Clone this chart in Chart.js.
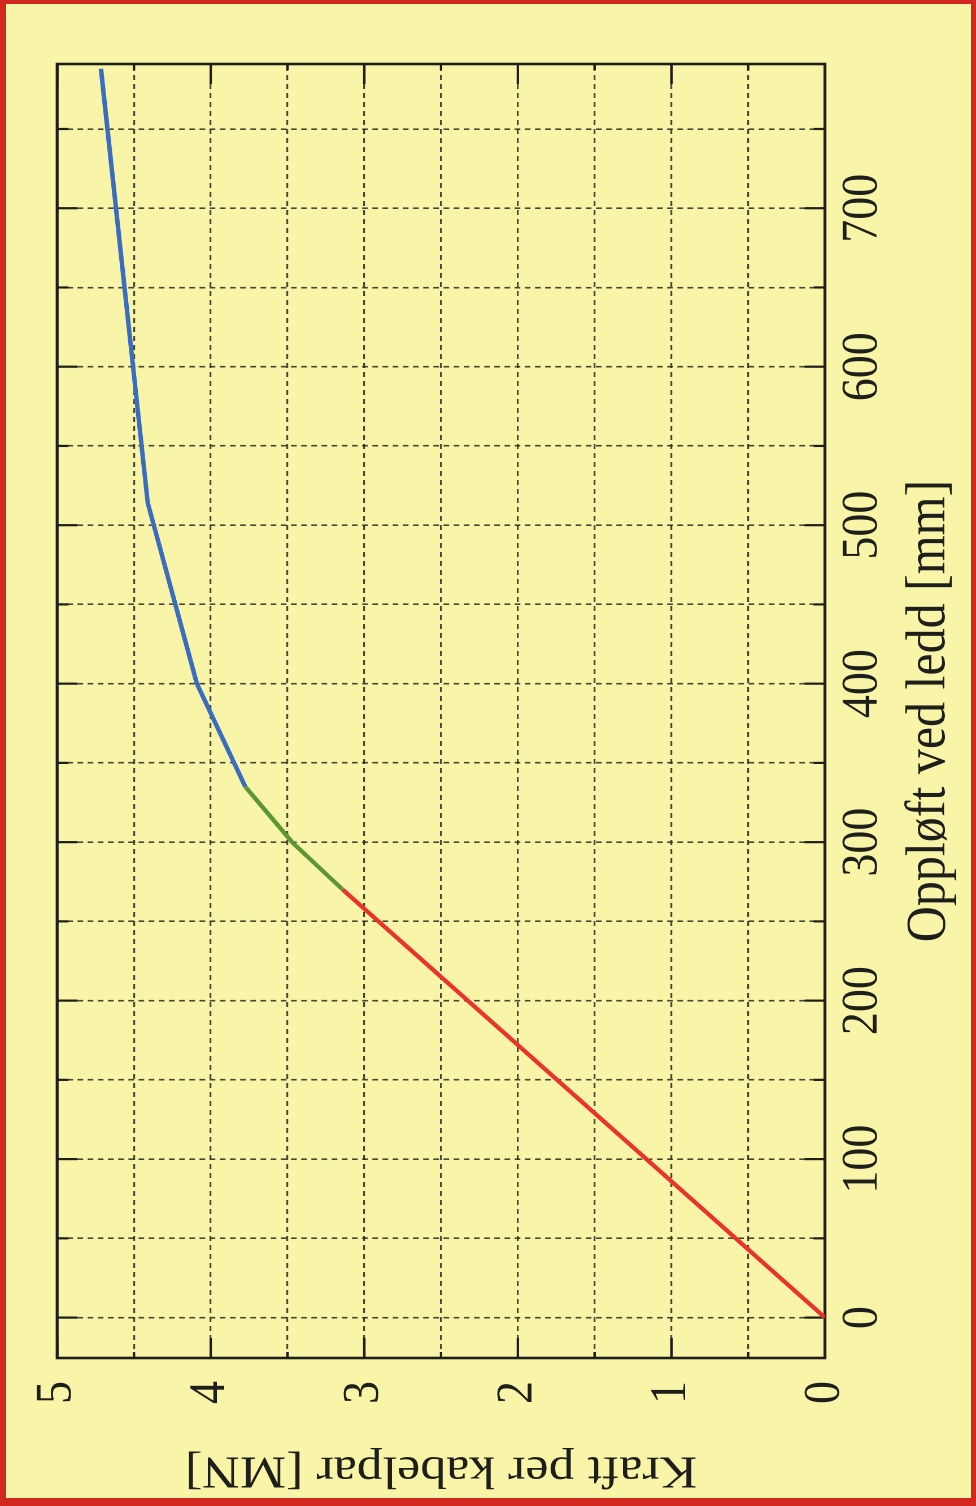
<!DOCTYPE html>
<html lang="no">
<head>
<meta charset="utf-8">
<title>Kraft per kabelpar</title>
<script src="https://cdn.jsdelivr.net/npm/chart.js@4/dist/chart.umd.min.js"></script>
<style>
  html, body { margin: 0; padding: 0; }
  body {
    width: 976px; height: 1506px; overflow: hidden;
    background: #f9f5a8; position: relative;
  }
  /* the chart is laid out landscape and turned a quarter round */
  #wrap {
    position: absolute; left: 0; top: 0;
    width: 1506px; height: 864px;
    transform-origin: 0 0;
    transform: translate(0px, 1506px) rotate(-90deg) scale(1, 1.12963);
  }
  #edge {
    position: absolute; inset: 0; box-sizing: border-box;
    border-style: solid; border-color: #d3281f;
    border-width: 4px 5px 8px 6px;
    pointer-events: none;
  }
</style>
</head>
<body>
<div id="wrap"><canvas id="kraft" width="1506" height="864"></canvas></div>
<div id="edge"></div>
<script>
// oppløft [mm] and kraft [MN], one piece per curve colour
const redMm = [0, 270];
const redMN = [0, 3.14];
const greenMm = [270, 300, 335];
const greenMN = [3.14, 3.47, 3.775];
const blueMm = [335, 400, 514, 788];
const blueMN = [3.775, 4.09, 4.41, 4.715];

const mmTicks = [0, 100, 200, 300, 400, 500, 600, 700];
const mnTicks = [0, 1, 2, 3, 4, 5];

const serif = '"Liberation Serif", "DejaVu Serif", serif';
const ink = '#1e1e1a';

const pts = (xs, ys) => xs.map((x, i) => ({ x: x, y: ys[i] }));

// solid inward ticks on all four sides plus the frame
const frameTicks = {
  id: 'frameTicks',
  beforeDatasetsDraw(chart) {
    const { ctx, chartArea: a, scales: { x, y } } = chart;
    ctx.save();
    ctx.strokeStyle = ink;
    ctx.setLineDash([]);
    ctx.lineWidth = 2.2;
    ctx.beginPath();
    x.ticks.forEach(t => {
      const p = x.getPixelForValue(t.value);
      const len = mmTicks.includes(t.value) ? 18 : 10;
      ctx.moveTo(p, a.top); ctx.lineTo(p, a.top + len);
      ctx.moveTo(p, a.bottom); ctx.lineTo(p, a.bottom - len);
    });
    y.ticks.forEach(t => {
      const p = y.getPixelForValue(t.value);
      const len = mnTicks.includes(t.value) ? 20 : 6;
      ctx.moveTo(a.left, p); ctx.lineTo(a.left + len, p);
      ctx.moveTo(a.right, p); ctx.lineTo(a.right - len, p);
    });
    ctx.stroke();
    ctx.lineWidth = 2.6;
    ctx.strokeRect(a.left, a.top, a.right - a.left, a.bottom - a.top);
    ctx.restore();
  }
};

const gridStyle = {
  color: 'rgba(40, 40, 30, 0.85)',
  lineWidth: 1.6,
  drawTicks: false
};
// in v4 the grid line dash lives on the border options
const borderStyle = { display: false, dash: [5, 4] };

new Chart(document.getElementById('kraft'), {
  type: 'line',
  data: {
    datasets: [
      { data: pts(redMm, redMN), borderColor: '#e8342a' },
      { data: pts(greenMm, greenMN), borderColor: '#5d9632' },
      { data: pts(blueMm, blueMN), borderColor: '#3a6cc0' }
    ]
  },
  options: {
    responsive: false,
    devicePixelRatio: 2,
    animation: false,
    layout: { padding: { top: 38.5, right: 64, bottom: 0, left: 0 } },
    elements: {
      line: { borderWidth: 4, tension: 0 },
      point: { radius: 0 }
    },
    plugins: { legend: { display: false }, tooltip: { enabled: false } },
    scales: {
      x: {
        type: 'linear',
        min: -25.5,
        max: 791,
        afterFit: s => { s.height = 133.7; },
        grid: gridStyle,
        border: borderStyle,
        ticks: {
          stepSize: 50,
          includeBounds: false,
          padding: 6,
          color: ink,
          font: { family: serif, size: 46 },
          callback: v => (mmTicks.includes(v) ? String(v) : '')
        },
        title: {
          display: true,
          text: 'Oppløft ved ledd [mm]',
          color: ink,
          font: { family: serif, size: 50 },
          padding: { top: 0, bottom: 11 }
        }
      },
      y: {
        min: 0,
        max: 5,
        afterFit: s => { s.width = 148; },
        grid: gridStyle,
        border: borderStyle,
        ticks: {
          stepSize: 0.5,
          padding: 23,
          color: ink,
          font: { family: serif, size: 46 },
          callback: v => (mnTicks.includes(v) ? String(v) : '')
        },
        title: {
          display: true,
          text: 'Kraft per kabelpar [MN]',
          color: ink,
          font: { family: serif, size: 46 },
          padding: { top: 9, bottom: 0 }
        }
      }
    }
  },
  plugins: [frameTicks]
});
</script>
</body>
</html>
